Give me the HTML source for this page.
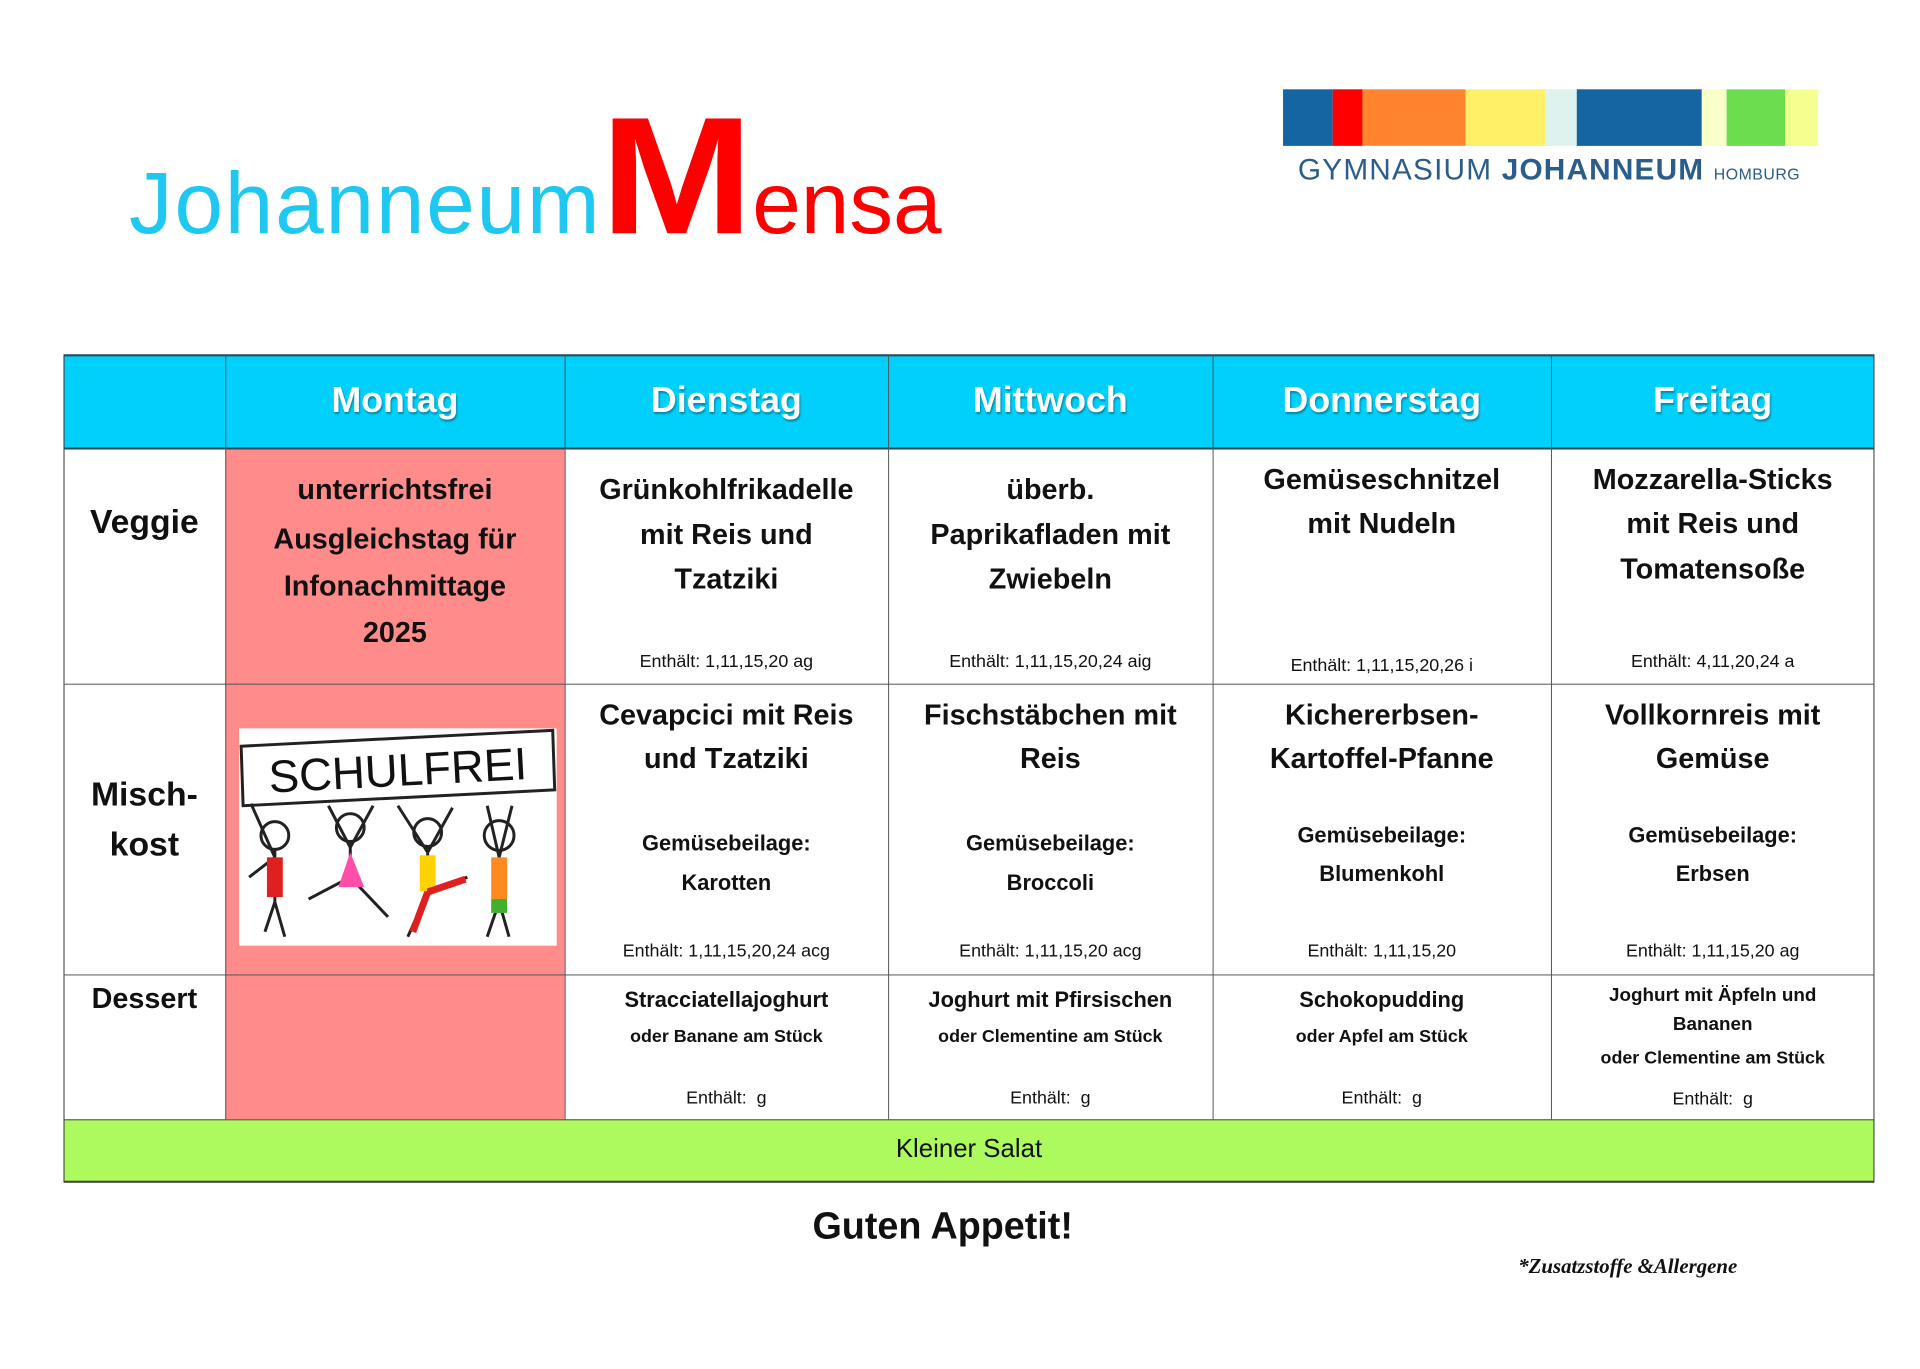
<!DOCTYPE html>
<html><head><meta charset="utf-8">
<style>
body{margin:0;width:1920px;height:1362px;background:#fff;position:relative;overflow:hidden;font-family:"Liberation Sans",sans-serif;}
#w{position:absolute;left:0;top:0;width:1940px;height:1380px;transform:scale(0.9923);transform-origin:0 0}
.a{position:absolute}
.t{position:absolute;text-align:center;white-space:nowrap;line-height:40px;height:40px;transform:translateY(-50%);font-weight:bold;color:#111}
.h{color:#fff;font-size:36px;text-shadow:1px 2px 2px rgba(0,0,0,.35)}
.d{font-size:29px}
.s{font-size:18px;font-weight:normal}
.m{font-size:22px}
.ss{font-size:18px}
</style></head><body><div id="w">
<div class="a" style="left:130px;top:112px;height:130px;white-space:nowrap;font-size:88px;line-height:130px;color:#1ec8f0;font-weight:normal;letter-spacing:1.8px">Johanneum<span style="display:inline-block;color:#ff0000;font-size:168px;font-weight:bold;transform:scaleX(1.1);margin:0 6px 0 6px;letter-spacing:0">M</span><span style="color:#ff0000;letter-spacing:0">ensa</span></div>
<div class="a" style="left:1293px;top:90px;height:57px;width:50px;background:#1565a2"></div>
<div class="a" style="left:1343px;top:90px;height:57px;width:30px;background:#ff0000"></div>
<div class="a" style="left:1373px;top:90px;height:57px;width:104px;background:#ff8430"></div>
<div class="a" style="left:1477px;top:90px;height:57px;width:80px;background:#fff068"></div>
<div class="a" style="left:1557px;top:90px;height:57px;width:32px;background:#dff3ee"></div>
<div class="a" style="left:1589px;top:90px;height:57px;width:126px;background:#1565a2"></div>
<div class="a" style="left:1715px;top:90px;height:57px;width:25px;background:#f8ffc8"></div>
<div class="a" style="left:1740px;top:90px;height:57px;width:59px;background:#6ddd50"></div>
<div class="a" style="left:1799px;top:90px;height:57px;width:33px;background:#f4ff90"></div>
<div class="a" style="left:1308px;top:154px;white-space:nowrap;color:#2b5d8a;font-size:30px;line-height:36px;letter-spacing:1.2px">GYMNASIUM <b>JOHANNEUM</b> <span style="font-size:16px;letter-spacing:0.5px">HOMBURG</span></div>

<div class="a" style="left:64px;top:358px;width:1825px;height:94px;background:#00d0fb"></div>
<div class="a" style="left:227px;top:452px;width:342px;height:676px;background:#ff8b8b"></div>
<div class="a" style="left:64px;top:1128px;width:1825px;height:63px;background:#adfa5e"></div>
<div class="a" style="left:64px;top:358px;width:1823px;height:831px;border:1px solid #333"></div>
<div class="a" style="left:64px;top:357px;width:1825px;height:2px;background:#2a4a5a"></div>
<div class="a" style="left:64px;top:451px;width:1825px;height:2px;background:#2a4a5a"></div>
<div class="a" style="left:64px;top:689px;width:1825px;height:1px;background:#555"></div>
<div class="a" style="left:64px;top:982px;width:1825px;height:1px;background:#555"></div>
<div class="a" style="left:64px;top:1128px;width:1825px;height:1px;background:#444"></div>
<div class="a" style="left:64px;top:1190px;width:1825px;height:2px;background:#444"></div>
<div class="a" style="left:227px;top:358px;width:1px;height:770px;background:#555"></div>
<div class="a" style="left:569px;top:358px;width:1px;height:770px;background:#555"></div>
<div class="a" style="left:895px;top:358px;width:1px;height:770px;background:#555"></div>
<div class="a" style="left:1222px;top:358px;width:1px;height:770px;background:#555"></div>
<div class="a" style="left:1563px;top:358px;width:1px;height:770px;background:#555"></div>

<div class="t h" style="left:227px;width:342px;top:403px">Montag</div>
<div class="t h" style="left:569px;width:326px;top:403px">Dienstag</div>
<div class="t h" style="left:895px;width:327px;top:403px">Mittwoch</div>
<div class="t h" style="left:1222px;width:341px;top:403px">Donnerstag</div>
<div class="t h" style="left:1563px;width:326px;top:403px">Freitag</div>

<div class="t" style="left:64px;width:163px;top:526px;font-size:34px">Veggie</div>
<div class="t" style="left:64px;width:163px;top:801px;font-size:34px">Misch-</div>
<div class="t" style="left:64px;width:163px;top:851px;font-size:34px">kost</div>
<div class="t" style="left:64px;width:163px;top:1007px;font-size:29px">Dessert</div>

<div class="t d" style="left:227px;width:342px;top:494px">unterrichtsfrei</div>
<div class="t d" style="left:227px;width:342px;top:544px">Ausgleichstag für</div>
<div class="t d" style="left:227px;width:342px;top:591px">Infonachmittage</div>
<div class="t d" style="left:227px;width:342px;top:638px">2025</div>

<div class="t d" style="left:569px;width:326px;top:494px">Grünkohlfrikadelle</div>
<div class="t d" style="left:569px;width:326px;top:539px">mit Reis und</div>
<div class="t d" style="left:569px;width:326px;top:584px">Tzatziki</div>
<div class="t s" style="left:569px;width:326px;top:666px">Enthält: 1,11,15,20 ag</div>
<div class="t d" style="left:895px;width:327px;top:494px">überb.</div>
<div class="t d" style="left:895px;width:327px;top:539px">Paprikafladen mit</div>
<div class="t d" style="left:895px;width:327px;top:584px">Zwiebeln</div>
<div class="t s" style="left:895px;width:327px;top:666px">Enthält: 1,11,15,20,24 aig</div>
<div class="t d" style="left:1222px;width:341px;top:484px">Gemüseschnitzel</div>
<div class="t d" style="left:1222px;width:341px;top:528px">mit Nudeln</div>
<div class="t s" style="left:1222px;width:341px;top:670px">Enthält: 1,11,15,20,26 i</div>
<div class="t d" style="left:1563px;width:326px;top:484px">Mozzarella-Sticks</div>
<div class="t d" style="left:1563px;width:326px;top:528px">mit Reis und</div>
<div class="t d" style="left:1563px;width:326px;top:574px">Tomatensoße</div>
<div class="t s" style="left:1563px;width:326px;top:666px">Enthält: 4,11,20,24 a</div>

<div class="t d" style="left:569px;width:326px;top:721px">Cevapcici mit Reis</div>
<div class="t d" style="left:569px;width:326px;top:765px">und Tzatziki</div>
<div class="t m" style="left:569px;width:326px;top:850px">Gemüsebeilage:</div>
<div class="t m" style="left:569px;width:326px;top:890px">Karotten</div>
<div class="t s" style="left:569px;width:326px;top:958px">Enthält: 1,11,15,20,24 acg</div>

<div class="t d" style="left:895px;width:327px;top:721px">Fischstäbchen mit</div>
<div class="t d" style="left:895px;width:327px;top:765px">Reis</div>
<div class="t m" style="left:895px;width:327px;top:850px">Gemüsebeilage:</div>
<div class="t m" style="left:895px;width:327px;top:890px">Broccoli</div>
<div class="t s" style="left:895px;width:327px;top:958px">Enthält: 1,11,15,20 acg</div>

<div class="t d" style="left:1222px;width:341px;top:721px">Kichererbsen-</div>
<div class="t d" style="left:1222px;width:341px;top:765px">Kartoffel-Pfanne</div>
<div class="t m" style="left:1222px;width:341px;top:842px">Gemüsebeilage:</div>
<div class="t m" style="left:1222px;width:341px;top:881px">Blumenkohl</div>
<div class="t s" style="left:1222px;width:341px;top:958px">Enthält: 1,11,15,20</div>

<div class="t d" style="left:1563px;width:326px;top:721px">Vollkornreis mit</div>
<div class="t d" style="left:1563px;width:326px;top:765px">Gemüse</div>
<div class="t m" style="left:1563px;width:326px;top:842px">Gemüsebeilage:</div>
<div class="t m" style="left:1563px;width:326px;top:881px">Erbsen</div>
<div class="t s" style="left:1563px;width:326px;top:958px">Enthält: 1,11,15,20 ag</div>

<div class="a" style="left:241px;top:734px;width:320px;height:219px;background:#fff">
<svg width="320" height="219" viewBox="0 0 320 219">
<polygon points="2,18 316,2 318,62 4,78" fill="#fff" stroke="#222" stroke-width="3"/>
<text x="160" y="58" text-anchor="middle" font-family="Liberation Sans" font-size="46" fill="#111" transform="rotate(-3 160 45)">SCHULFREI</text>
<g stroke="#222" stroke-width="3" fill="none">
<circle cx="36" cy="108" r="14" fill="#fff"/><path d="M36 122 L36 175 M36 175 L26 205 M36 175 L46 210 M36 130 L10 150 M36 130 L12 76"/>
<circle cx="112" cy="100" r="14" fill="#fff"/><path d="M112 114 L112 150 M112 150 L70 172 M112 150 L150 190 M112 120 L90 78 M112 120 L135 78"/>
<circle cx="190" cy="105" r="14" fill="#fff"/><path d="M190 119 L190 165 M190 165 L170 210 M190 165 L230 150 M190 125 L160 78 M190 125 L215 80"/>
<circle cx="262" cy="108" r="15" fill="#fff"/><path d="M262 123 L262 175 M262 175 L250 210 M262 175 L272 210 M262 130 L250 78 M262 130 L275 78"/>
</g>
<rect x="28" y="130" width="16" height="40" fill="#e02020"/>
<polygon points="112,125 100,160 126,160" fill="#ff4fa8"/>
<rect x="182" y="128" width="16" height="36" fill="#ffd200"/>
<path d="M190 165 L175 205 M190 165 L228 152" stroke="#e02020" stroke-width="7"/>
<rect x="254" y="130" width="16" height="42" fill="#ff8a20"/>
<rect x="254" y="172" width="16" height="14" fill="#40b030"/>
</svg></div>

<div class="t m" style="left:569px;width:326px;top:1008px">Stracciatellajoghurt</div>
<div class="t ss" style="left:569px;width:326px;top:1044px">oder Banane am Stück</div>
<div class="t s" style="left:569px;width:326px;top:1106px">Enthält:&nbsp; g</div>

<div class="t m" style="left:895px;width:327px;top:1008px">Joghurt mit Pfirsischen</div>
<div class="t ss" style="left:895px;width:327px;top:1044px">oder Clementine am Stück</div>
<div class="t s" style="left:895px;width:327px;top:1106px">Enthält:&nbsp; g</div>

<div class="t m" style="left:1222px;width:341px;top:1008px">Schokopudding</div>
<div class="t ss" style="left:1222px;width:341px;top:1044px">oder Apfel am Stück</div>
<div class="t s" style="left:1222px;width:341px;top:1106px">Enthält:&nbsp; g</div>

<div class="t ss" style="left:1563px;width:326px;top:1004px;font-size:19px">Joghurt mit Äpfeln und</div>
<div class="t ss" style="left:1563px;width:326px;top:1033px;font-size:19px">Bananen</div>
<div class="t ss" style="left:1563px;width:326px;top:1066px">oder Clementine am Stück</div>
<div class="t s" style="left:1563px;width:326px;top:1107px">Enthält:&nbsp; g</div>

<div class="t" style="left:64px;width:1825px;top:1157px;font-size:26px;font-weight:normal">Kleiner Salat</div>
<div class="t" style="left:0;width:1900px;top:1236px;font-size:38px">Guten Appetit!</div>
<div class="a" style="left:1530px;top:1264px;white-space:nowrap;font-family:'Liberation Serif',serif;font-style:italic;font-weight:bold;font-size:21px;color:#111">*Zusatzstoffe &amp;Allergene</div>
</div></body></html>
